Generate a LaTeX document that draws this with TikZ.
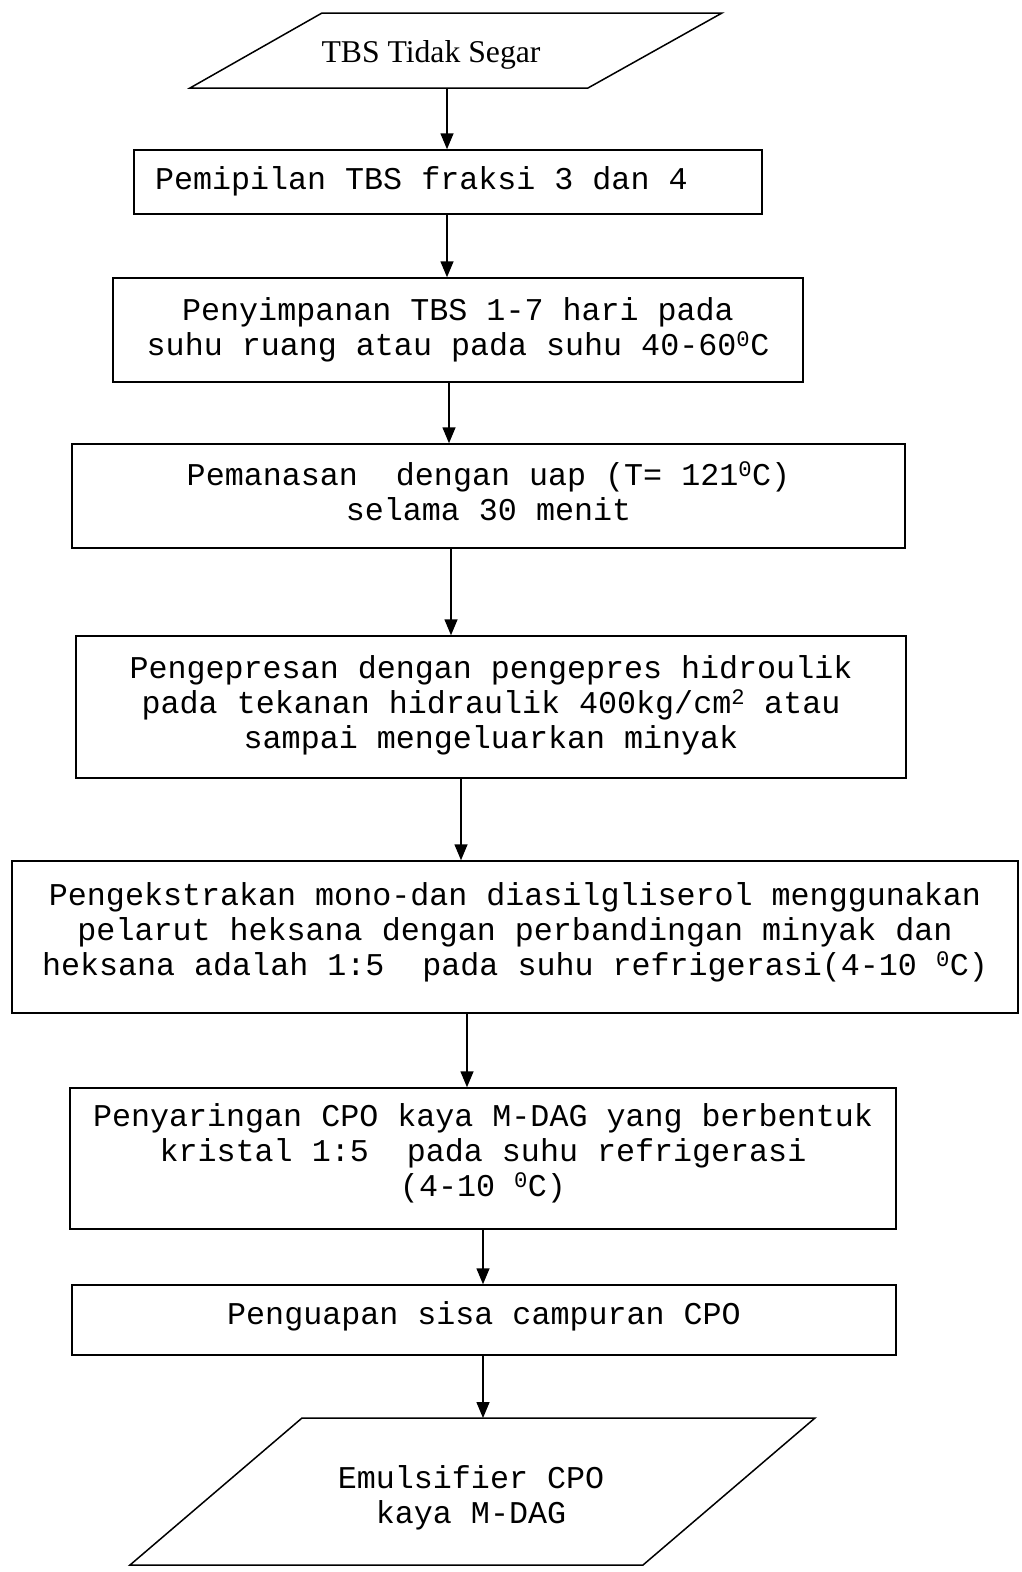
\documentclass[tikz,border=0pt]{standalone}
\usepackage{fontspec}
\setmainfont{Liberation Serif}
\setmonofont{Liberation Mono}
\usetikzlibrary{arrows.meta,calc}

\tikzset{
  box/.style={draw, line width=1.5pt, inner sep=0pt, align=center, text depth=13pt,
    font=\ttfamily\fontsize{31.7}{35}\selectfont},
  iobox/.style={line width=1.5pt, line join=miter},
  flow/.style={line width=1.5pt, -{Triangle[width=13pt,length=16pt]}}
}

\begin{document}
\begin{tikzpicture}[x=1pt,y=-1pt]
\useasboundingbox (0,0) rectangle (1021,1572);

% input
\coordinate (inA) at (190,88);
\coordinate (inB) at (588,88);
\coordinate (inC) at (722,13);
\coordinate (inD) at (322,13);
\draw[iobox] (inA) -- (inB) -- (inC) -- (inD) -- cycle;
\node[font=\fontsize{31.7}{35}\selectfont] (tbs) at (431,55) {TBS Tidak Segar};
\coordinate (inS) at (447,88);

% steps
\node[box, minimum width=628pt, minimum height=64pt, text depth=8pt] (b1) at (448,182)
  {\makebox[586pt][l]{Pemipilan TBS fraksi 3 dan 4}};
\node[box, minimum width=690pt, minimum height=104pt, text depth=7pt] (b2) at (458,330)
  {Penyimpanan TBS 1-7 hari pada\\suhu ruang atau pada suhu 40-60\textsuperscript{0}C};
\node[box, minimum width=833pt, minimum height=104pt, text depth=10pt] (b3) at (488.5,496)
  {Pemanasan~ dengan uap (T= 121\textsuperscript{0}C)\\selama 30 menit};
\node[box, minimum width=830pt, minimum height=142pt, text depth=10pt] (b4) at (491,707)
  {Pengepresan dengan pengepres hidroulik\\pada tekanan hidraulik 400kg/cm\textsuperscript{2} atau\\sampai mengeluarkan minyak};
\node[box, minimum width=1006pt, minimum height=152pt, text depth=15pt] (b5) at (515,937)
  {Pengekstrakan mono-dan diasilgliserol menggunakan\\pelarut heksana dengan perbandingan minyak dan\\heksana adalah 1:5~ pada suhu refrigerasi(4-10 \textsuperscript{0}C)};
\node[box, minimum width=826pt, minimum height=141pt, text depth=17pt] (b6) at (483,1158.5)
  {Penyaringan CPO kaya M-DAG yang berbentuk\\kristal 1:5~ pada suhu refrigerasi\\(4-10 \textsuperscript{0}C)};
\node[box, minimum width=824pt, minimum height=70pt, text depth=14pt] (b7) at (484,1320)
  {Penguapan sisa campuran CPO};

% output
\coordinate (outA) at (130,1565);
\coordinate (outB) at (643,1565);
\coordinate (outC) at (815,1418);
\coordinate (outD) at (302,1418);
\draw[iobox] (outA) -- (outB) -- (outC) -- (outD) -- cycle;
\node[font=\ttfamily\fontsize{31.7}{35}\selectfont, align=center] (emul) at (471,1498)
  {Emulsifier CPO\\kaya M-DAG};
\coordinate (outN) at (483,1418);

% arrows
\coordinate (x2) at (447,0);
\coordinate (x3) at (449,0);
\coordinate (x4) at (451,0);
\coordinate (x5) at (461,0);
\coordinate (x6) at (467,0);
\coordinate (x7) at (483,0);
\draw[flow] (inS) -- (b1.north -| inS);
\draw[flow] (b1.south -| x2) -- (b2.north -| x2);
\draw[flow] (b2.south -| x3) -- (b3.north -| x3);
\draw[flow] (b3.south -| x4) -- (b4.north -| x4);
\draw[flow] (b4.south -| x5) -- (b5.north -| x5);
\draw[flow] (b5.south -| x6) -- (b6.north -| x6);
\draw[flow] (b6.south -| x7) -- (b7.north -| x7);
\draw[flow] (b7.south -| outN) -- (outN);

\end{tikzpicture}
\end{document}
